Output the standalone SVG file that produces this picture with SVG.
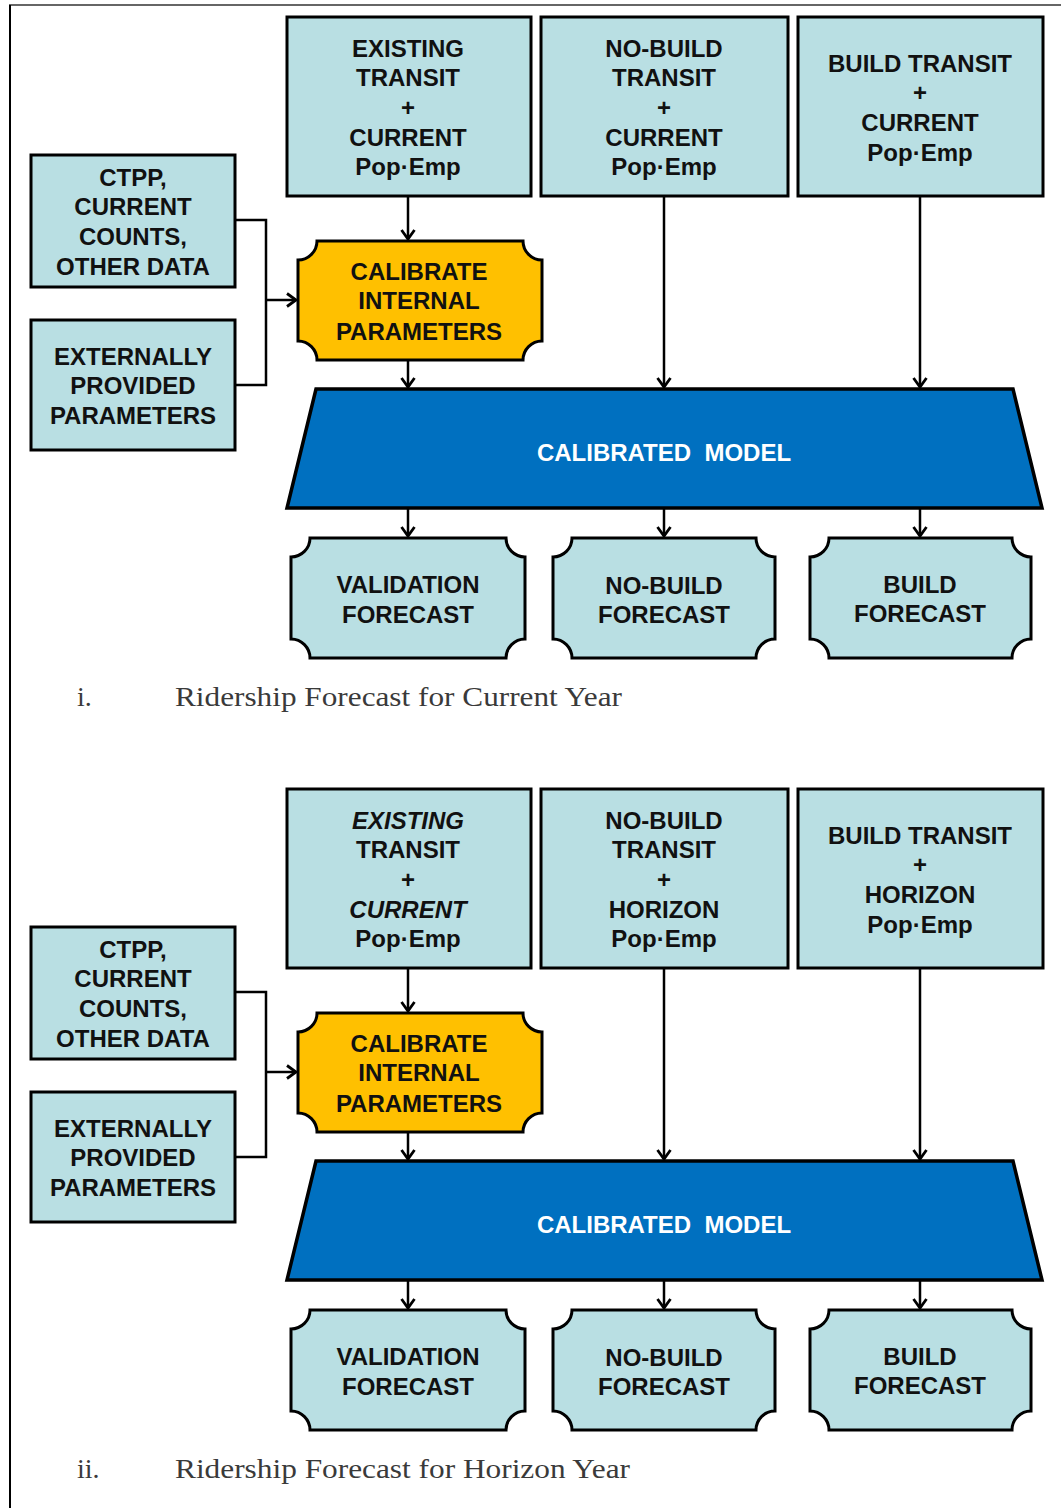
<svg xmlns="http://www.w3.org/2000/svg" width="1061" height="1508" viewBox="0 0 1061 1508">
<defs>
<style>
.bx{fill:#B9DFE3;stroke:#000;stroke-width:3}
.cal{fill:#FFC000;stroke:#000;stroke-width:3}
.mdl{fill:#0070C0;stroke:#000;stroke-width:3.5;stroke-linejoin:miter}
.t{font-family:"Liberation Sans",Arial,sans-serif;font-weight:bold;font-size:24px;fill:#111;text-anchor:middle}
.tw{fill:#fff}
.i{font-style:italic}
.cap{font-family:"Liberation Serif","Times New Roman",serif;font-size:28px;fill:#3a3a3a}
.c{fill:none;stroke:#000;stroke-width:2.5}
</style>
<marker id="ah" markerWidth="16" markerHeight="16" refX="12" refY="8" orient="auto" markerUnits="userSpaceOnUse">
<path d="M3,1.5 L12,8 L3,14.5" fill="none" stroke="#000" stroke-width="2.8"/>
</marker>
</defs>
<rect width="1061" height="1508" fill="#fff"/>
<g id="frame">
<line x1="9" y1="5" x2="1061" y2="5" stroke="#333" stroke-width="1.5"/>
<line x1="10" y1="5" x2="10" y2="1508" stroke="#000" stroke-width="2"/>
</g>

<!-- ===== Section i ===== -->
<g id="s1-existing"><rect class="bx" x="287" y="17" width="244" height="179"/>
<text class="t" x="408" y="57">EXISTING</text><text class="t" x="408" y="86">TRANSIT</text><text class="t" x="408" y="116">+</text><text class="t" x="408" y="146">CURRENT</text><text class="t" x="408" y="175">Pop·Emp</text></g>
<g id="s1-nobuild"><rect class="bx" x="541" y="17" width="247" height="179"/>
<text class="t" x="664" y="57">NO-BUILD</text><text class="t" x="664" y="86">TRANSIT</text><text class="t" x="664" y="116">+</text><text class="t" x="664" y="146">CURRENT</text><text class="t" x="664" y="175">Pop·Emp</text></g>
<g id="s1-build"><rect class="bx" x="798" y="17" width="245" height="179"/>
<text class="t" x="920" y="72">BUILD TRANSIT</text><text class="t" x="920" y="101">+</text><text class="t" x="920" y="131">CURRENT</text><text class="t" x="920" y="161">Pop·Emp</text></g>
<g id="s1-ctpp"><rect class="bx" x="31" y="155" width="204" height="132"/>
<text class="t" x="133" y="186">CTPP,</text><text class="t" x="133" y="215">CURRENT</text><text class="t" x="133" y="245">COUNTS,</text><text class="t" x="133" y="275">OTHER DATA</text></g>
<g id="s1-ext"><rect class="bx" x="31" y="320" width="204" height="130"/>
<text class="t" x="133" y="365">EXTERNALLY</text><text class="t" x="133" y="394">PROVIDED</text><text class="t" x="133" y="424">PARAMETERS</text></g>
<g id="s1-calibrate"><path class="cal" d="M317,241 H523 A19 19 0 0 0 542,260 V341 A19 19 0 0 0 523,360 H317 A19 19 0 0 0 298,341 V260 A19 19 0 0 0 317,241 Z"/>
<text class="t" x="419" y="280">CALIBRATE</text><text class="t" x="419" y="309">INTERNAL</text><text class="t" x="419" y="340">PARAMETERS</text></g>
<g id="s1-model"><path class="mdl" d="M316,389 H1013 L1042,508 H287 Z"/>
<text class="t tw" x="664" y="461" xml:space="preserve">CALIBRATED  MODEL</text></g>
<g id="s1-val"><path class="bx" d="M310,538 H506 A19 19 0 0 0 525,557 V639 A19 19 0 0 0 506,658 H310 A19 19 0 0 0 291,639 V557 A19 19 0 0 0 310,538 Z"/>
<text class="t" x="408" y="593">VALIDATION</text><text class="t" x="408" y="623">FORECAST</text></g>
<g id="s1-nbf"><path class="bx" d="M572,538 H756 A19 19 0 0 0 775,557 V639 A19 19 0 0 0 756,658 H572 A19 19 0 0 0 553,639 V557 A19 19 0 0 0 572,538 Z"/>
<text class="t" x="664" y="594">NO-BUILD</text><text class="t" x="664" y="623">FORECAST</text></g>
<g id="s1-bf"><path class="bx" d="M829,538 H1012 A19 19 0 0 0 1031,557 V639 A19 19 0 0 0 1012,658 H829 A19 19 0 0 0 810,639 V557 A19 19 0 0 0 829,538 Z"/>
<text class="t" x="920" y="593">BUILD</text><text class="t" x="920" y="622">FORECAST</text></g>
<g id="s1-caption"><text class="cap" x="77" y="706">i.</text><text class="cap" x="175" y="706" textLength="447" lengthAdjust="spacingAndGlyphs">Ridership Forecast for Current Year</text></g>

<!-- ===== Section ii ===== -->
<g id="s2-existing"><rect class="bx" x="287" y="789" width="244" height="179"/>
<text class="t i" x="408" y="829">EXISTING</text><text class="t" x="408" y="858">TRANSIT</text><text class="t" x="408" y="888">+</text><text class="t i" x="408" y="918">CURRENT</text><text class="t" x="408" y="947">Pop·Emp</text></g>
<g id="s2-nobuild"><rect class="bx" x="541" y="789" width="247" height="179"/>
<text class="t" x="664" y="829">NO-BUILD</text><text class="t" x="664" y="858">TRANSIT</text><text class="t" x="664" y="888">+</text><text class="t" x="664" y="918">HORIZON</text><text class="t" x="664" y="947">Pop·Emp</text></g>
<g id="s2-build"><rect class="bx" x="798" y="789" width="245" height="179"/>
<text class="t" x="920" y="844">BUILD TRANSIT</text><text class="t" x="920" y="873">+</text><text class="t" x="920" y="903">HORIZON</text><text class="t" x="920" y="933">Pop·Emp</text></g>
<g id="s2-ctpp"><rect class="bx" x="31" y="927" width="204" height="132"/>
<text class="t" x="133" y="958">CTPP,</text><text class="t" x="133" y="987">CURRENT</text><text class="t" x="133" y="1017">COUNTS,</text><text class="t" x="133" y="1047">OTHER DATA</text></g>
<g id="s2-ext"><rect class="bx" x="31" y="1092" width="204" height="130"/>
<text class="t" x="133" y="1137">EXTERNALLY</text><text class="t" x="133" y="1166">PROVIDED</text><text class="t" x="133" y="1196">PARAMETERS</text></g>
<g id="s2-calibrate"><path class="cal" d="M317,1013 H523 A19 19 0 0 0 542,1032 V1113 A19 19 0 0 0 523,1132 H317 A19 19 0 0 0 298,1113 V1032 A19 19 0 0 0 317,1013 Z"/>
<text class="t" x="419" y="1052">CALIBRATE</text><text class="t" x="419" y="1081">INTERNAL</text><text class="t" x="419" y="1112">PARAMETERS</text></g>
<g id="s2-model"><path class="mdl" d="M316,1161 H1013 L1042,1280 H287 Z"/>
<text class="t tw" x="664" y="1233" xml:space="preserve">CALIBRATED  MODEL</text></g>
<g id="s2-val"><path class="bx" d="M310,1310 H506 A19 19 0 0 0 525,1329 V1411 A19 19 0 0 0 506,1430 H310 A19 19 0 0 0 291,1411 V1329 A19 19 0 0 0 310,1310 Z"/>
<text class="t" x="408" y="1365">VALIDATION</text><text class="t" x="408" y="1395">FORECAST</text></g>
<g id="s2-nbf"><path class="bx" d="M572,1310 H756 A19 19 0 0 0 775,1329 V1411 A19 19 0 0 0 756,1430 H572 A19 19 0 0 0 553,1411 V1329 A19 19 0 0 0 572,1310 Z"/>
<text class="t" x="664" y="1366">NO-BUILD</text><text class="t" x="664" y="1395">FORECAST</text></g>
<g id="s2-bf"><path class="bx" d="M829,1310 H1012 A19 19 0 0 0 1031,1329 V1411 A19 19 0 0 0 1012,1430 H829 A19 19 0 0 0 810,1411 V1329 A19 19 0 0 0 829,1310 Z"/>
<text class="t" x="920" y="1365">BUILD</text><text class="t" x="920" y="1394">FORECAST</text></g>
<g id="s2-caption"><text class="cap" x="77" y="1478">ii.</text><text class="cap" x="175" y="1478" textLength="455" lengthAdjust="spacingAndGlyphs">Ridership Forecast for Horizon Year</text></g>

<g id="connectors">
<!-- section i -->
<path class="c" d="M235,220 H266 V385 H235"/>
<path class="c" d="M266,300 H296" marker-end="url(#ah)"/>
<path class="c" d="M408,196 V239" marker-end="url(#ah)"/>
<path class="c" d="M408,360 V387" marker-end="url(#ah)"/>
<path class="c" d="M664,196 V387" marker-end="url(#ah)"/>
<path class="c" d="M920,196 V387" marker-end="url(#ah)"/>
<path class="c" d="M408,508 V536" marker-end="url(#ah)"/>
<path class="c" d="M664,508 V536" marker-end="url(#ah)"/>
<path class="c" d="M920,508 V536" marker-end="url(#ah)"/>
<!-- section ii -->
<path class="c" d="M235,992 H266 V1157 H235"/>
<path class="c" d="M266,1072 H296" marker-end="url(#ah)"/>
<path class="c" d="M408,968 V1011" marker-end="url(#ah)"/>
<path class="c" d="M408,1132 V1159" marker-end="url(#ah)"/>
<path class="c" d="M664,968 V1159" marker-end="url(#ah)"/>
<path class="c" d="M920,968 V1159" marker-end="url(#ah)"/>
<path class="c" d="M408,1280 V1308" marker-end="url(#ah)"/>
<path class="c" d="M664,1280 V1308" marker-end="url(#ah)"/>
<path class="c" d="M920,1280 V1308" marker-end="url(#ah)"/>
</g>
</svg>
